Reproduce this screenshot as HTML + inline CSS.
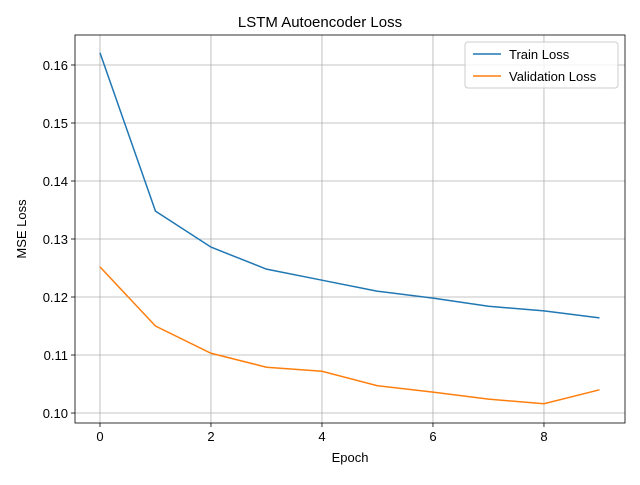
<!DOCTYPE html>
<html><head><meta charset="utf-8"><style>
body{margin:0;background:#fff;font-family:"Liberation Sans","DejaVu Sans",sans-serif}
</style></head><body>
<svg id="chart" width="640" height="480" xmlns="http://www.w3.org/2000/svg">
<rect width="640" height="480" fill="#fff"/>
<g id="grid"></g>
<g id="series"></g>
<rect x="75" y="35" width="550" height="388" fill="none" stroke="#000" stroke-width="0.8"/>
<g id="ticks" font-size="13" fill="#000"></g>
<text x="320" y="27" text-anchor="middle" font-size="15">LSTM Autoencoder Loss</text>
<text x="350" y="462" text-anchor="middle" font-size="13">Epoch</text>
<text transform="translate(26,229) rotate(-90)" text-anchor="middle" font-size="13">MSE Loss</text>
<g>
<rect x="465" y="42" width="153" height="46" rx="3" fill="#fff" fill-opacity="0.8" stroke="#ccc"/>
<line x1="473" y1="54" x2="501" y2="54" stroke="#1f77b4" stroke-width="1.5"/>
<text x="509" y="59" font-size="13">Train Loss</text>
<line x1="473" y1="76" x2="501" y2="76" stroke="#ff7f0e" stroke-width="1.5"/>
<text x="509" y="81" font-size="13">Validation Loss</text>
</g>
</svg>
<script>
const epochs=[0,1,2,3,4,5,6,7,8,9];
const trainLoss=[0.1621,0.1348,0.1286,0.1248,0.1229,0.1210,0.1198,0.1184,0.1176,0.1164];
const valLoss=[0.1252,0.1150,0.1103,0.1079,0.1072,0.1047,0.1036,0.1024,0.1016,0.1040];
const xTicks=[0,2,4,6,8];
const yTicks=[0.10,0.11,0.12,0.13,0.14,0.15,0.16];
const xMin=-0.45,xMax=9.46,yMin=0.09828,yMax=0.16517;
const L=75,R=625,T=35,B=423;
const sx=v=>L+(v-xMin)/(xMax-xMin)*(R-L);
const sy=v=>B-(v-yMin)/(yMax-yMin)*(B-T);
const NS="http://www.w3.org/2000/svg";
const grid=document.getElementById('grid'),ticks=document.getElementById('ticks'),ser=document.getElementById('series');
function mk(tag,attrs,parent){const e=document.createElementNS(NS,tag);for(const k in attrs)e.setAttribute(k,attrs[k]);parent.appendChild(e);return e;}
xTicks.forEach(t=>{const x=sx(t);
const g=mk('line',{x1:x,x2:x,y1:T,y2:B,stroke:'#b0b0b0','stroke-width':0.8},grid);


mk('line',{x1:x,x2:x,y1:B,y2:B+4,stroke:'#000','stroke-width':0.8},ticks);
const tx=mk('text',{x:x,y:B+18,'text-anchor':'middle'},ticks);tx.textContent=t;

});
yTicks.forEach(t=>{const y=sy(t);
const g=mk('line',{x1:L,x2:R,y1:y,y2:y,stroke:'#b0b0b0','stroke-width':0.8},grid);


mk('line',{x1:L-4,x2:L,y1:y,y2:y,stroke:'#000','stroke-width':0.8},ticks);
const tx=mk('text',{x:L-7,y:y+5,'text-anchor':'end'},ticks);tx.textContent=t.toFixed(2);

});
function line(vals,color,name){const p=mk('polyline',{points:vals.map((v,i)=>sx(epochs[i])+','+sy(v)).join(' '),fill:'none',stroke:color,'stroke-width':1.5},ser);

}
line(trainLoss,'#1f77b4','train-loss-line');
line(valLoss,'#ff7f0e','validation-loss-line');
</script>
</body></html>
